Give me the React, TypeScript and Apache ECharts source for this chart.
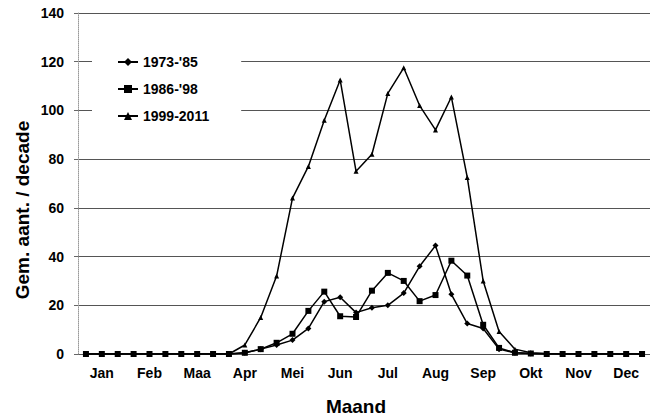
import React, { useEffect, useRef } from "react";
import * as echarts from "echarts";

const months = ["Jan", "Feb", "Maa", "Apr", "Mei", "Jun", "Jul", "Aug", "Sep", "Okt", "Nov", "Dec"];
const decades = ["I", "II", "III"];
const yTicks = [0, 20, 40, 60, 80, 100, 120, 140];

const s1973 = [0, 0, 0, 0, 0, 0, 0, 0, 0, 0, 0.5, 2, 3.7, 5.7, 10.5, 21.5, 23.3, 17, 19, 20, 25, 36, 44.5, 24.5, 12.5, 10.5, 2, 0.5, 0.2, 0, 0, 0, 0, 0, 0, 0];
const s1986 = [0, 0, 0, 0, 0, 0, 0, 0, 0, 0, 0.5, 2, 4.6, 8.3, 17.7, 25.6, 15.5, 15.2, 26, 33.3, 30, 21.7, 24.2, 38.3, 32.2, 12, 2.5, 0.5, 0.2, 0, 0, 0, 0, 0, 0, 0];
const s1999 = [0, 0, 0, 0, 0, 0, 0, 0, 0, 0, 3.7, 15, 32, 64, 77, 96, 112.5, 75, 82, 107, 117.5, 102, 92, 105.5, 72.5, 30, 9.2, 2, 0.5, 0.2, 0, 0, 0, 0, 0, 0];

const FONT = "Liberation Sans, Arial, sans-serif";

export default function App() {
  const ref = useRef<HTMLDivElement>(null);
  useEffect(() => {
    if (!ref.current) return;
    const chart = echarts.init(ref.current, null, { renderer: "svg" });
    const cats: string[] = [];
    months.forEach((m) => decades.forEach((d) => cats.push(m + " " + d)));
    const mk = (name: string, data: number[], symbol: string, size: number) => ({
      name,
      type: "line",
      data,
      symbol,
      symbolSize: size,
      showAllSymbol: true,
      lineStyle: { color: "#000", width: 1.5 },
      itemStyle: { color: "#000" },
    });
    chart.setOption({
      animation: false,
      backgroundColor: "#fff",
      textStyle: { fontFamily: FONT },
      grid: { left: 78, right: 1, top: 13, bottom: 64 },
      legend: {
        orient: "vertical",
        left: 92,
        top: 50,
        padding: [5, 32, 5, 25],
        backgroundColor: "#fff",
        itemWidth: 20,
        itemHeight: 10,
        itemGap: 13,
        textStyle: { fontFamily: FONT, fontWeight: "bold", fontSize: 14, color: "#000" },
        data: ["1973-'85", "1986-'98", "1999-2011"],
      },
      xAxis: {
        type: "category",
        data: cats,
        boundaryGap: true,
        axisLine: { show: false },
        axisTick: { show: false },
        axisLabel: {
          interval: 0,
          margin: 12,
          fontFamily: FONT,
          fontWeight: "bold",
          fontSize: 14,
          color: "#000",
          formatter: (_v: string, i: number) => (i % 3 === 1 ? months[Math.floor(i / 3)] : ""),
        },
      },
      yAxis: {
        type: "value",
        min: yTicks[0],
        max: yTicks[yTicks.length - 1],
        interval: 20,
        axisLine: { show: true, lineStyle: { color: "#999", type: "dotted", width: 1 } },
        axisTick: { show: true, length: 4, lineStyle: { color: "#666" } },
        axisLabel: { margin: 14, fontFamily: FONT, fontWeight: "bold", fontSize: 14, color: "#000" },
        splitLine: { show: true, lineStyle: { color: "#555", width: 1 } },
      },
      graphic: [
        {
          type: "text",
          x: 22,
          y: 210,
          rotation: Math.PI / 2,
          style: {
            text: "Gem. aant. / decade",
            font: "bold 19px " + FONT,
            fill: "#000",
            align: "center",
            verticalAlign: "middle",
          },
        },
        {
          type: "text",
          x: 356,
          y: 406,
          style: {
            text: "Maand",
            font: "bold 19px " + FONT,
            fill: "#000",
            align: "center",
            verticalAlign: "middle",
          },
        },
      ],
      series: [
        mk("1973-'85", s1973, "diamond", 6),
        mk("1986-'98", s1986, "rect", 6),
        mk("1999-2011", s1999, "triangle", 5),
      ],
    });
    return () => chart.dispose();
  }, []);
  return <div ref={ref} style={{ width: 651, height: 418, position: "absolute", left: 0, top: 0 }} />;
}
